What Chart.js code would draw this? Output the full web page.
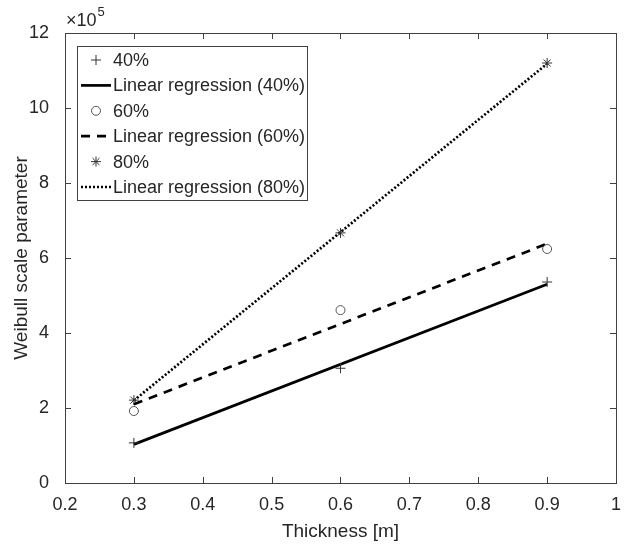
<!DOCTYPE html>
<html>
<head>
<meta charset="utf-8">
<script src="https://cdn.jsdelivr.net/npm/chart.js@4.4.1/dist/chart.umd.min.js"></script>
<style>
  html, body { margin: 0; padding: 0; background: #fff; }
  #wrap { width: 629px; height: 547px; }
</style>
</head>
<body>
<div id="wrap"><canvas id="myChart" width="629" height="547"></canvas></div>
<script>
// values in units of 1e5
var thickness = [0.3, 0.6, 0.9];
var val40 = [1.07, 3.06, 5.36];
var val60 = [1.92, 4.61, 6.24];
var val80 = [2.21, 6.67, 11.2];
var regX = [0.3, 0.9];
var reg40 = [1.03, 5.3];
var reg60 = [2.1, 6.38];
var reg80 = [2.2, 11.18];
var xTicks = [0.2, 0.3, 0.4, 0.5, 0.6, 0.7, 0.8, 0.9, 1];
var yTicks = [0, 2, 4, 6, 8, 10, 12];

function pts(xs, ys) {
  return xs.map((x, i) => ({ x: x, y: ys[i] }));
}

const axisColor = '#404040';
const textColor = '#262626';
const fontFam = '"Liberation Sans", Arial, sans-serif';

// box, inward ticks, x10^5 label and legend like the matlab figure
const matlabBox = {
  id: 'matlabBox',
  afterDraw(chart) {
    const c = chart.ctx;
    const a = chart.chartArea;
    const xs = chart.scales.x, ys = chart.scales.y;
    c.save();
    c.strokeStyle = axisColor;
    c.lineWidth = 1;
    c.strokeRect(a.left + 0.5, a.top + 0.5, a.right - a.left, a.bottom - a.top);
    c.beginPath();
    xTicks.forEach(v => {
      const px = Math.round(xs.getPixelForValue(v)) + 0.5;
      c.moveTo(px, a.bottom); c.lineTo(px, a.bottom - 6);
      c.moveTo(px, a.top); c.lineTo(px, a.top + 6);
    });
    yTicks.forEach(v => {
      const py = Math.round(ys.getPixelForValue(v)) + 0.5;
      c.moveTo(a.left, py); c.lineTo(a.left + 6, py);
      c.moveTo(a.right, py); c.lineTo(a.right - 6, py);
    });
    c.stroke();

    // exponent label
    c.fillStyle = textColor;
    c.font = '18px ' + fontFam;
    c.textBaseline = 'alphabetic';
    c.textAlign = 'left';
    c.fillText('\u00d710', a.left + 1, 26);
    const w = c.measureText('\u00d710').width;
    c.font = '13px ' + fontFam;
    c.fillText('5', a.left + 1 + w + 1, 16);

    // legend
    const lx = 77, ly = 46, lw = 230, lh = 154;
    c.fillStyle = '#fff';
    c.fillRect(lx, ly, lw, lh);
    c.strokeStyle = axisColor;
    c.strokeRect(lx + 0.5, ly + 0.5, lw, lh);
    const rowH = 25.4;
    chart.data.datasets.forEach((ds, i) => {
      const cy = ly + 14 + i * rowH;
      const sx = lx + 4, ex = lx + 34;
      c.save();
      if (ds.showLine) {
        c.strokeStyle = ds.borderColor;
        c.lineWidth = ds.borderWidth;
        c.setLineDash(ds.borderDash || []);
        c.beginPath();
        c.moveTo(sx, cy); c.lineTo(ex, cy);
        c.stroke();
      } else {
        c.strokeStyle = ds.pointBorderColor;
        c.fillStyle = 'rgba(0,0,0,0)';
        c.lineWidth = 1;
        Chart.helpers.drawPoint(c, {
          pointStyle: ds.pointStyle, radius: ds.pointRadius, borderWidth: 1,
          rotation: 0
        }, (sx + ex) / 2, cy);
      }
      c.restore();
      c.fillStyle = textColor;
      c.font = '18px ' + fontFam;
      c.textAlign = 'left';
      c.textBaseline = 'middle';
      c.fillText(ds.label, lx + 36, cy + 1);
    });
    c.restore();
  }
};

const ctx = document.getElementById('myChart').getContext('2d');
const myChart = new Chart(ctx, {
  type: 'scatter',
  data: {
    datasets: [{
      label: '40%',
      data: pts(thickness, val40),
      pointStyle: 'cross',
      pointRadius: 5,
      pointBorderColor: '#333',
      pointBackgroundColor: 'transparent',
      pointBorderWidth: 1,
      showLine: false
    }, {
      label: 'Linear regression (40%)',
      data: pts(regX, reg40),
      showLine: true,
      borderColor: '#000',
      borderWidth: 2.7,
      pointRadius: 0
    }, {
      label: '60%',
      data: pts(thickness, val60),
      pointStyle: 'circle',
      pointRadius: 4.5,
      pointBorderColor: '#555',
      pointBackgroundColor: 'transparent',
      pointBorderWidth: 1,
      showLine: false
    }, {
      label: 'Linear regression (60%)',
      data: pts(regX, reg60),
      showLine: true,
      borderColor: '#000',
      borderWidth: 2.7,
      borderDash: [9, 7],
      pointRadius: 0
    }, {
      label: '80%',
      data: pts(thickness, val80),
      pointStyle: 'star',
      pointRadius: 5,
      pointBorderColor: '#333',
      pointBackgroundColor: 'transparent',
      pointBorderWidth: 1,
      showLine: false
    }, {
      label: 'Linear regression (80%)',
      data: pts(regX, reg80),
      showLine: true,
      borderColor: '#000',
      borderWidth: 2.7,
      borderDash: [2, 2],
      pointRadius: 0
    }]
  },
  plugins: [matlabBox],
  options: {
    responsive: false,
    animation: false,
    layout: { padding: { top: 33, right: 13, left: 0, bottom: 0 } },
    plugins: {
      legend: { display: false },
      tooltip: { enabled: false }
    },
    scales: {
      x: {
        type: 'linear',
        min: 0.2,
        max: 1,
        afterBuildTicks: s => { s.ticks = xTicks.map(v => ({ value: v })); },
        afterFit: s => { s.height = 64; },
        grid: { display: false },
        border: { display: false },
        ticks: {
          color: textColor,
          font: { family: fontFam, size: 18 },
          padding: 3,
          maxRotation: 0,
          callback: v => String(Number(v.toFixed(1)))
        },
        title: {
          display: true,
          text: 'Thickness [m]',
          color: textColor,
          font: { family: fontFam, size: 19 },
          padding: { top: 0 }
        }
      },
      y: {
        min: 0,
        max: 12,
        afterBuildTicks: s => { s.ticks = yTicks.map(v => ({ value: v })); },
        afterFit: s => { s.width = 65; },
        grid: { display: false },
        border: { display: false },
        ticks: {
          color: textColor,
          font: { family: fontFam, size: 18 },
          padding: 8
        },
        title: {
          display: true,
          text: 'Weibull scale parameter',
          color: textColor,
          font: { family: fontFam, size: 19 },
          padding: { top: 10, bottom: 4 }
        }
      }
    }
  }
});
</script>
</body>
</html>
